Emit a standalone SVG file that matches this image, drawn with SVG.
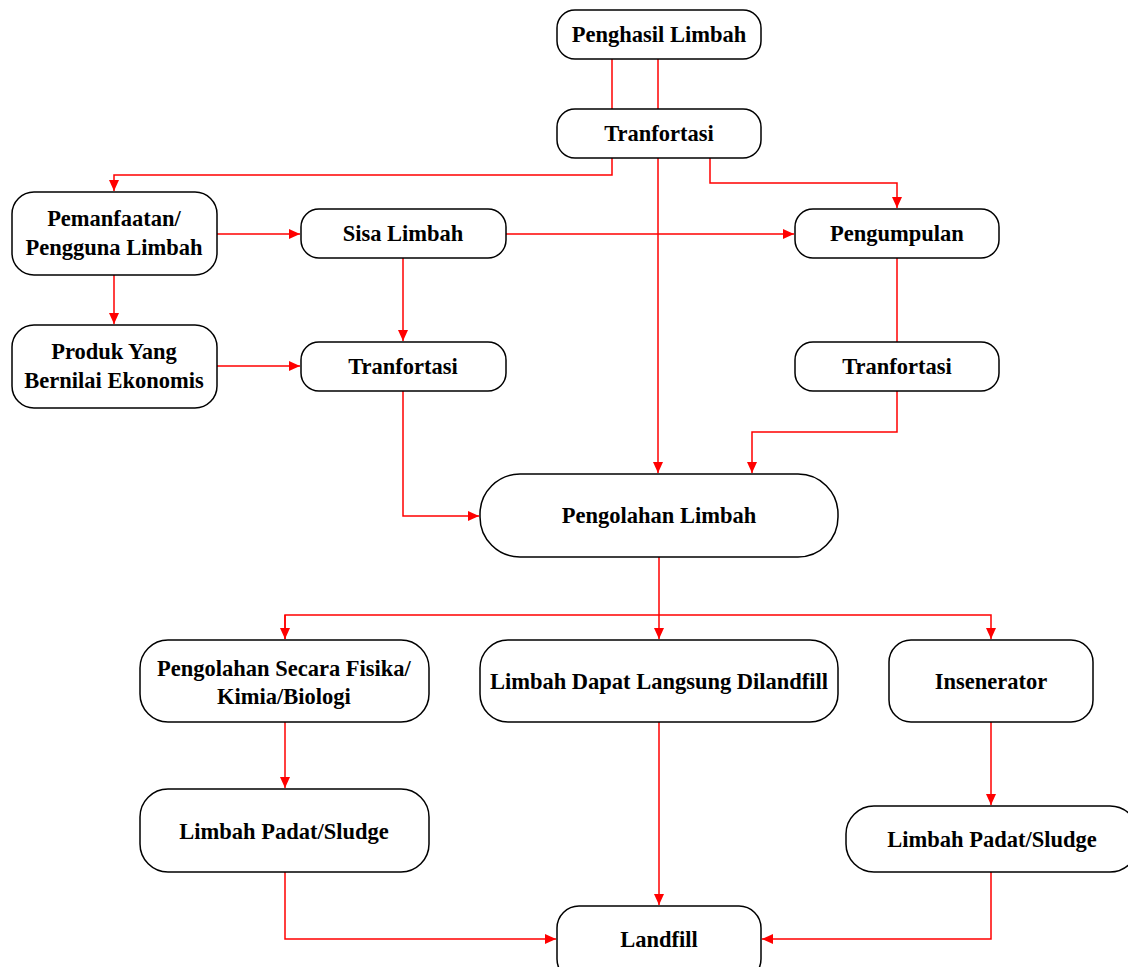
<svg xmlns="http://www.w3.org/2000/svg" width="1128" height="967" viewBox="0 0 1128 967">
<style>
.box{fill:#fff;stroke:#000;stroke-width:1.5}
.t{font-family:"Liberation Serif","Times New Roman",serif;font-weight:bold;font-size:22.5px;fill:#000;text-anchor:middle}
.c{fill:none;stroke:#ff0000;stroke-width:1.5}
</style>
<defs>
<marker id="ah" markerWidth="12" markerHeight="10" refX="11" refY="5" orient="auto" markerUnits="userSpaceOnUse">
<path d="M0,0 L11,5 L0,10 Z" fill="#ff0000"/>
</marker>
</defs>
<rect width="1128" height="967" fill="#fff"/>
<g id="connectors">
<path class="c" d="M612,59 V109"/>
<path class="c" d="M658,59 V109"/>
<path class="c" d="M612,158 V175 H114 V191" marker-end="url(#ah)"/>
<path class="c" d="M658,158 V473" marker-end="url(#ah)"/>
<path class="c" d="M710,158 V183 H897 V208" marker-end="url(#ah)"/>
<path class="c" d="M217,234 H300" marker-end="url(#ah)"/>
<path class="c" d="M114,275 V324" marker-end="url(#ah)"/>
<path class="c" d="M506,234 H794" marker-end="url(#ah)"/>
<path class="c" d="M403,258 V341" marker-end="url(#ah)"/>
<path class="c" d="M217,366 H300" marker-end="url(#ah)"/>
<path class="c" d="M897,258 V342"/>
<path class="c" d="M897,391 V432 H752 V473" marker-end="url(#ah)"/>
<path class="c" d="M403,391 V516 H479" marker-end="url(#ah)"/>
<path class="c" d="M659,557 V639" marker-end="url(#ah)"/>
<path class="c" d="M285,639 V615 H991 V639" marker-end="url(#ah)"/>
<path class="c" d="M285,615 V639" marker-end="url(#ah)"/>
<path class="c" d="M285,722 V788" marker-end="url(#ah)"/>
<path class="c" d="M991,722 V805" marker-end="url(#ah)"/>
<path class="c" d="M659,722 V905" marker-end="url(#ah)"/>
<path class="c" d="M285,872 V939 H556" marker-end="url(#ah)"/>
<path class="c" d="M991,872 V939 H762" marker-end="url(#ah)"/>
</g>
<g id="penghasil"><rect class="box" x="557" y="10" width="204" height="49" rx="18"/><text class="t" x="659" y="42">Penghasil Limbah</text></g>
<g id="tranfortasi1"><rect class="box" x="557" y="109" width="204" height="49" rx="18"/><text class="t" x="659" y="141">Tranfortasi</text></g>
<g id="pemanfaatan"><rect class="box" x="12" y="192" width="205" height="83" rx="22"/><text class="t" x="114" y="226">Pemanfaatan/</text><text class="t" x="114" y="255">Pengguna Limbah</text></g>
<g id="sisa"><rect class="box" x="301" y="209" width="205" height="49" rx="18"/><text class="t" x="403" y="241">Sisa Limbah</text></g>
<g id="pengumpulan"><rect class="box" x="795" y="209" width="204" height="49" rx="18"/><text class="t" x="897" y="241">Pengumpulan</text></g>
<g id="produk"><rect class="box" x="12" y="325" width="205" height="83" rx="22"/><text class="t" x="114" y="359">Produk Yang</text><text class="t" x="114" y="388">Bernilai Ekonomis</text></g>
<g id="tranfortasi2"><rect class="box" x="301" y="342" width="205" height="49" rx="18"/><text class="t" x="403" y="374">Tranfortasi</text></g>
<g id="tranfortasi3"><rect class="box" x="795" y="342" width="204" height="49" rx="18"/><text class="t" x="897" y="374">Tranfortasi</text></g>
<g id="pengolahan"><rect class="box" x="480" y="474" width="358" height="83" rx="40"/><text class="t" x="659" y="523">Pengolahan Limbah</text></g>
<g id="fisika"><rect class="box" x="140" y="640" width="289" height="82" rx="28"/><text class="t" x="284" y="676">Pengolahan Secara Fisika/</text><text class="t" x="284" y="704">Kimia/Biologi</text></g>
<g id="langsung"><rect class="box" x="480" y="640" width="358" height="82" rx="28"/><text class="t" x="659" y="689">Limbah Dapat Langsung Dilandfill</text></g>
<g id="insenerator"><rect class="box" x="889" y="640" width="204" height="82" rx="22"/><text class="t" x="991" y="689">Insenerator</text></g>
<g id="padat1"><rect class="box" x="140" y="789" width="289" height="83" rx="28"/><text class="t" x="284" y="839">Limbah Padat/Sludge</text></g>
<g id="padat2"><rect class="box" x="846" y="806" width="292" height="66" rx="28"/><text class="t" x="992" y="847">Limbah Padat/Sludge</text></g>
<g id="landfill"><rect class="box" x="557" y="906" width="204" height="75" rx="22"/><text class="t" x="659" y="947">Landfill</text></g>
</svg>
